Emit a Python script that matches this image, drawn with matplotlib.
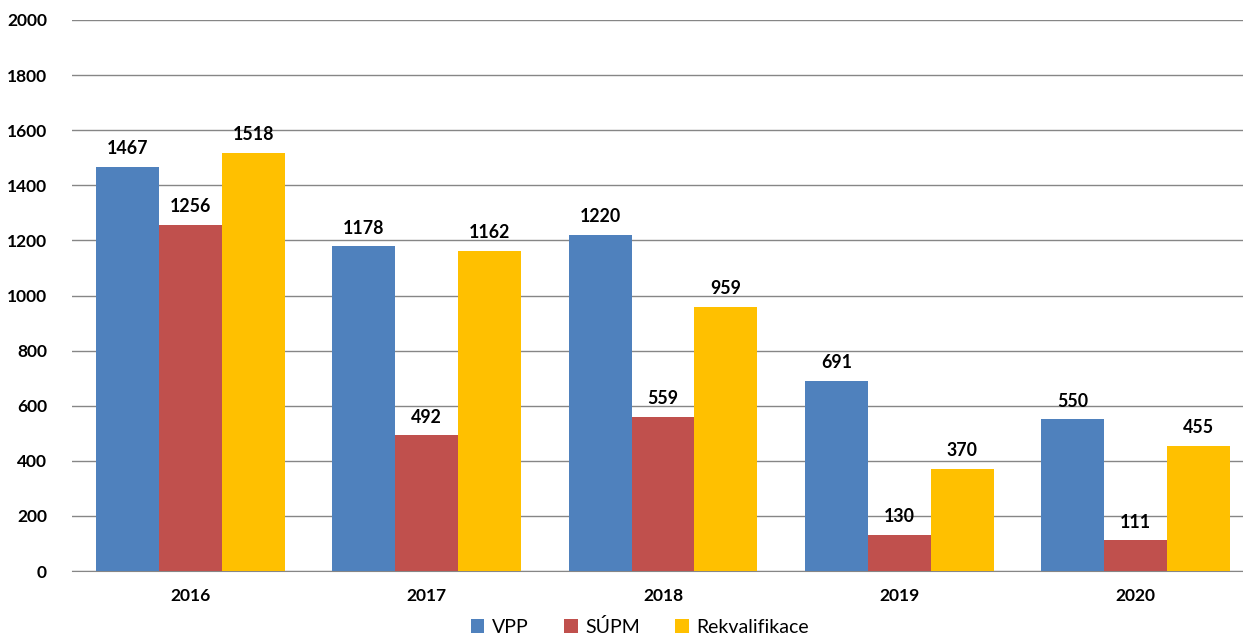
import matplotlib
matplotlib.use("Agg")
import matplotlib.pyplot as plt
import numpy as np

years = ["2016", "2017", "2018", "2019", "2020"]
series_names = ["VPP", "SÚPM", "Rekvalifikace"]
vpp = [1467, 1178, 1220, 691, 550]
supm = [1256, 492, 559, 130, 111]
rekval = [1518, 1162, 959, 370, 455]
yticks = [0, 200, 400, 600, 800, 1000, 1200, 1400, 1600, 1800, 2000]

colors = ["#4F81BD", "#C0504D", "#FFC000"]
plt.rcParams['font.family'] = ['Lato', 'DejaVu Sans']

W, H = 1243, 644
fig = plt.figure(figsize=(W/100, H/100), dpi=100)
ax = fig.add_axes([72/W, 1-571/H, (1254-72)/W, (571-20)/H])

x = np.arange(len(years))
bw = 0.266
for i, (vals, name, c) in enumerate(zip([vpp, supm, rekval], series_names, colors)):
    bars = ax.bar(x + (i-1)*bw, vals, width=bw, color=c, label=name, zorder=3)
    for b, v in zip(bars, vals):
        ax.text(b.get_x()+b.get_width()/2, v + 36, str(v), ha='center', va='bottom',
                fontsize=12.8, fontweight='bold', color='black', zorder=4)

ax.set_xlim(-0.5, 4.5)
ax.set_ylim(0, 2000)
ax.set_yticks(yticks)
ax.set_yticklabels([str(t) for t in yticks], fontsize=12.5, fontweight='bold')
ax.set_xticks(x)
ax.set_xticklabels(years, fontsize=12.5, fontweight='bold')
ax.tick_params(axis='both', length=0)
ax.tick_params(axis='y', pad=18)
ax.tick_params(axis='x', pad=12)
ax.grid(axis='y', color='#868686', linewidth=1, zorder=0)
for s in ['top', 'right', 'left']:
    ax.spines[s].set_visible(False)
ax.spines['bottom'].set_color('#868686')

fig.legend(loc='lower center', bbox_to_anchor=(640/W, -0.014), ncol=3, frameon=False,
           fontsize=14, handlelength=0.7, handleheight=0.7, handletextpad=0.4,
           columnspacing=1.8)

fig.savefig("out.png", dpi=100)
